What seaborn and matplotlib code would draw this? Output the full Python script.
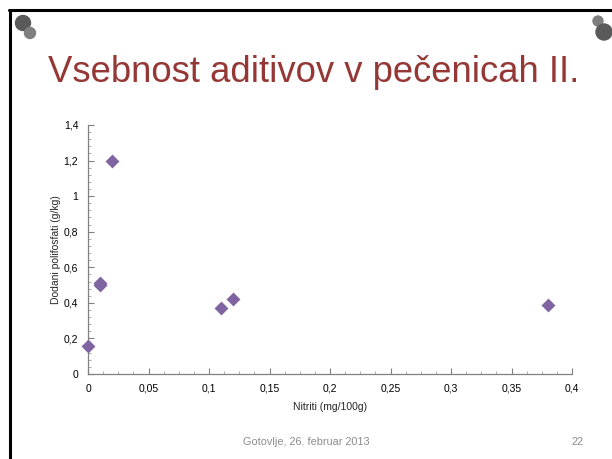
import matplotlib
matplotlib.use("Agg")
import matplotlib.pyplot as plt
import seaborn as sns
import pandas as pd
from matplotlib.patches import Ellipse
from matplotlib.lines import Line2D
from matplotlib.ticker import MultipleLocator, FuncFormatter

# Data
nitriti = [0.0, 0.01, 0.01, 0.02, 0.11, 0.12, 0.38]
polifosfati = [0.16, 0.50, 0.51, 1.20, 0.37, 0.42, 0.39]
x_ticks = [0, 0.05, 0.1, 0.15, 0.2, 0.25, 0.3, 0.35, 0.4]
y_ticks = [0, 0.2, 0.4, 0.6, 0.8, 1.0, 1.2, 1.4]

title = "Vsebnost aditivov v pečenicah II."
x_label = "Nitriti (mg/100g)"
y_label = "Dodani polifosfati (g/kg)"
footer = "Gotovlje, 26. februar 2013"
page = "22"

sns.set_theme(style="white")
plt.rcParams["font.family"] = ["Liberation Sans", "DejaVu Sans"]

df = pd.DataFrame({"x": nitriti, "y": polifosfati})

W, H = 612, 459
fig = plt.figure(figsize=(W / 100, H / 100), dpi=100)
fig.patch.set_facecolor("white")

# Slide frame (left and top lines)
fig.add_artist(Line2D([10 / W, 10 / W], [0, 1 - 10 / H], color="black", lw=2.2,
                      transform=fig.transFigure))
fig.add_artist(Line2D([9 / W, 1], [1 - 10 / H, 1 - 10 / H], color="black", lw=2.2,
                      transform=fig.transFigure))

# Decorative circles
def ell(cx, cy, r, color):
    fig.add_artist(Ellipse((cx / W, 1 - cy / H), 2 * r / W, 2 * r / H, color=color,
                           transform=fig.transFigure, zorder=5))

ell(23, 23, 7.5, "#5a5a5a")
ell(30, 33, 5.5, "#7f7f7f")
ell(598, 21, 5, "#7f7f7f")
ell(604, 32, 8, "#5a5a5a")

# Title
fig.text(48 / W, 1 - 82 / H, title, color="#953735", fontsize=26.3,
         ha="left", va="baseline")

# Axes
ax = fig.add_axes([88 / W, 1 - 374 / H, (572 - 88) / W, (374 - 125) / H])
sns.scatterplot(data=df, x="x", y="y", marker="D", s=50, color="#8064A2",
                edgecolor="#8064A2", linewidth=0, ax=ax, zorder=3, clip_on=False)

ax.set_xlim(0, 0.4)
ax.set_ylim(0, 1.4)
ax.set_xticks(x_ticks)
ax.set_yticks(y_ticks)
ax.xaxis.set_minor_locator(MultipleLocator(0.0125))
ax.yaxis.set_minor_locator(MultipleLocator(0.04))

def fmt(v, pos):
    s = f"{v:.2f}".rstrip("0").rstrip(".")
    return s.replace(".", ",")

ax.xaxis.set_major_formatter(FuncFormatter(fmt))
ax.yaxis.set_major_formatter(FuncFormatter(fmt))

ax.tick_params(which="major", direction="in", length=4, width=0.8, color="#808080",
               labelsize=7.5, labelcolor="black", bottom=True, left=True)
ax.tick_params(axis="y", which="major", pad=7)
ax.tick_params(axis="x", which="major", pad=7)
ax.tick_params(which="minor", direction="in", length=2, width=0.6, color="#a0a0a0",
               bottom=True, left=True)

for s in ["top", "right"]:
    ax.spines[s].set_visible(False)
for s in ["left", "bottom"]:
    ax.spines[s].set_color("#808080")
    ax.spines[s].set_linewidth(0.9)

ax.set_xlabel(x_label, fontsize=7.5, labelpad=6)
ax.set_ylabel(y_label, fontsize=7.5)
ax.yaxis.set_label_coords((61 - 88) / (572 - 88), 0.5)
ax.grid(False)
ax.set_facecolor("none")

# Footer
fig.text(306 / W, 1 - 442 / H, footer, color="#8c8c8c", fontsize=7.8,
         ha="center", va="center")
fig.text(578 / W, 1 - 442 / H, page, color="#8c8c8c", fontsize=7.8,
         ha="center", va="center")

fig.savefig("out.png", dpi=100)
